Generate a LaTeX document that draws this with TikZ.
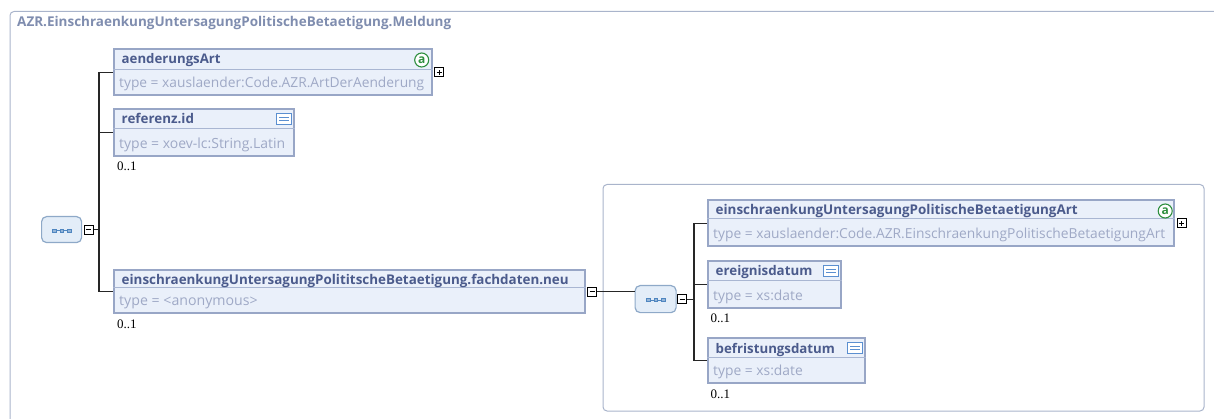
\documentclass[tikz,border=0pt]{standalone}
\usepackage{fontspec}
\setmainfont{Open Sans}
\newfontfamily\multfont{Liberation Serif}
\definecolor{boxfill}{HTML}{EAF0FA}
\definecolor{boxborder}{HTML}{98A6C6}
\definecolor{divcol}{HTML}{A9B6D2}
\definecolor{namecol}{HTML}{4B5B8C}
\definecolor{typecol}{HTML}{9FA9C6}
\definecolor{titlecol}{HTML}{7F8DAF}
\definecolor{framecol}{HTML}{A9B4CB}
\definecolor{seqfill}{HTML}{E3EDF8}
\definecolor{seqborder}{HTML}{8EA9C8}
\definecolor{dotcol}{HTML}{4F86C0}
\definecolor{attrgreen}{HTML}{2F8F3F}
\definecolor{docblue}{HTML}{5B8FD0}
\tikzset{
  elbox/.style={draw=boxborder, line width=2.2pt, fill=boxfill, anchor=north west, inner sep=0pt, rectangle},
  divline/.style={draw=divcol, line width=1pt},
  nametext/.style={anchor=base west, inner sep=0pt, text=namecol, font=\fontsize{13}{15}\selectfont\bfseries},
  typetext/.style={anchor=base west, inner sep=0pt, text=typecol, font=\fontsize{13.7}{15}\selectfont},
  multtext/.style={anchor=base west, inner sep=0pt, text=black, font=\multfont\fontsize{13}{14}\selectfont},
  pmbox/.style={draw=black, fill=white, line width=0.9pt, minimum size=9pt, inner sep=0pt, rectangle},
  conn/.style={draw=black!85, line width=1.1pt},
  frame/.style={draw=framecol, line width=1pt, rounded corners=4pt},
  seqbox/.style={draw=seqborder, fill=seqfill, line width=1.2pt, rounded corners=5pt, inner sep=0pt, rectangle},
  attricon/.style={circle, draw=attrgreen, fill=white, line width=1.1pt, minimum size=14pt, inner sep=0pt, text=attrgreen, font=\fontsize{12}{12}\selectfont\bfseries},
  docicon/.style={draw=docblue, fill=white, line width=1pt, minimum width=15pt, minimum height=11pt, inner sep=0pt, rectangle},
  dot/.style={draw=dotcol, fill=dotcol!60, line width=0.6pt, minimum size=3.4pt, inner sep=0pt, rectangle}
}
\newcommand\fitto[2]{\resizebox{#1pt}{!}{#2}}
% #1 name, #2 x, #3 y, #4 w, #5 h, #6 divider offset
\newcommand\xelem[6]{%
  \node[elbox, minimum width=#4pt, minimum height=#5pt] (#1) at (#2,#3) {};
  \draw[divline] ([yshift=-#6pt]#1.north west) -- ([yshift=-#6pt]#1.north east);
}
% #1 node, #2 name width, #3 name, #4 type width, #5 type
\newcommand\xtexts[5]{%
  \node[nametext] (#1-n) at ([xshift=8.5pt,yshift=-16pt]#1.north west) {\fitto{#2}{#3}};
  \node[typetext] (#1-t) at ([xshift=6pt,yshift=9pt]#1.south west) {\fitto{#4}{#5}};
}
\newcommand\xdoc[1]{%
  \node[docicon] (#1-d) at ([xshift=-11pt,yshift=-11pt]#1.north east) {};
  \draw[docblue, line width=0.9pt] ([xshift=3pt,yshift=1.5pt]#1-d.west) -- ([xshift=-3pt,yshift=1.5pt]#1-d.east);
  \draw[docblue, line width=0.9pt] ([xshift=3pt,yshift=-1.5pt]#1-d.west) -- ([xshift=-3pt,yshift=-1.5pt]#1-d.east);
}
\newcommand\xseq[1]{%
  \node[dot] (#1-d2) at ([yshift=-1pt]#1.center) {};
  \node[dot] (#1-d1) at ([xshift=-7.5pt]#1-d2.center) {};
  \node[dot] (#1-d3) at ([xshift=7.5pt]#1-d2.center) {};
  \draw[dotcol, line width=0.8pt] (#1-d1) -- (#1-d2) -- (#1-d3);
}
\newcommand\xminus[1]{%
  \draw[black, line width=1pt] ([xshift=-2.5pt]#1.center) -- ([xshift=2.5pt]#1.center);
}
\newcommand\xplus[1]{%
  \draw[black, line width=1pt] ([xshift=-2.5pt]#1.center) -- ([xshift=2.5pt]#1.center);
  \draw[black, line width=1pt] ([yshift=-2.5pt]#1.center) -- ([yshift=2.5pt]#1.center);
}
\begin{document}
\begin{tikzpicture}[x=1pt,y=-1pt]
\useasboundingbox (0,0) rectangle (1214,419);
\clip (0,0) rectangle (1214,419);
% outer frame
\draw[frame] (10,11.5) rectangle (1240,450);
\node[anchor=base west, inner sep=0pt, text=titlecol, font=\fontsize{13}{15}\selectfont\bfseries] (title) at (17,27) {\fitto{434}{AZR.EinschraenkungUntersagungPolitischeBetaetigung.Meldung}};
% inner frame
\draw[frame] (603,184.5) rectangle (1204,411);

% left side elements
\xelem{A}{113}{48}{318}{46}{22}
\xtexts{A}{99}{aenderungsArt}{305}{type = xauslaender:Code.AZR.ArtDerAenderung}
\node[attricon] (A-a) at ([xshift=-11.5pt,yshift=-12pt]A.north east) {a};
\node[pmbox, anchor=west] (A-pm) at ([xshift=1pt]A.east) {};
\xplus{A-pm}

\xelem{R}{113}{108}{180}{47}{21}
\xtexts{R}{72.3}{referenz.id}{166}{type = xoev-lc:String.Latin}
\xdoc{R}
\node[multtext] (R-m) at (117,171) {0..1};

\xelem{F}{113}{269}{471}{43}{19}
\xtexts{F}{447}{einschraenkungUntersagungPolititscheBetaetigung.fachdaten.neu}{138.5}{type = <anonymous>}
\node[pmbox, anchor=west] (F-pm) at ([xshift=1pt]F.east) {};
\xminus{F-pm}
\node[multtext] (F-m) at (117,328) {0..1};

% sequence 1
\node[seqbox, minimum width=40pt, minimum height=26pt, anchor=north west] (S1) at (41,216) {};
\xseq{S1}
\node[pmbox, anchor=west] (S1-pm) at ([xshift=1.5pt]S1.east) {};
\xminus{S1-pm}
\coordinate (t1) at (99,229);
\draw[conn] (S1-pm.east) -- (S1-pm.east -| t1);
\draw[conn] (A.west) -- (A.west -| t1) -- (F.west -| t1) -- (F.west);
\draw[conn] (R.west) -- (R.west -| t1);

% sequence 2
\node[seqbox, minimum width=41pt, minimum height=27pt, anchor=north west] (S2) at (634.5,285) {};
\xseq{S2}
\node[pmbox, anchor=west] (S2-pm) at ([xshift=0.5pt]S2.east) {};
\xminus{S2-pm}
\draw[conn] (F-pm.east) -- (F-pm.east -| S2.west);

% right side elements
\xelem{B}{707}{199}{466}{46}{20}
\xtexts{B}{362}{einschraenkungUntersagungPolitischeBetaetigungArt}{452}{type = xauslaender:Code.AZR.EinschraenkungPolitischeBetaetigungArt}
\node[attricon] (B-a) at ([xshift=-10pt,yshift=-12pt]B.north east) {a};
\node[pmbox, anchor=west] (B-pm) at ([xshift=1.5pt]B.east) {};
\xplus{B-pm}

\xelem{E}{707}{260}{133}{47}{21}
\xtexts{E}{96.7}{ereignisdatum}{89.6}{type = xs:date}
\xdoc{E}
\node[multtext] (E-m) at (710.5,322) {0..1};

\xelem{G}{707}{337}{157}{45}{20}
\xtexts{G}{119.3}{befristungsdatum}{89.6}{type = xs:date}
\xdoc{G}
\node[multtext] (G-m) at (710.5,398) {0..1};

\coordinate (t2) at (694,298);
\draw[conn] (S2-pm.east) -- (S2-pm.east -| t2);
\draw[conn] (B.west) -- (B.west -| t2) -- (G.west -| t2) -- (G.west);
\draw[conn] (E.west) -- (E.west -| t2);
\end{tikzpicture}
\end{document}
